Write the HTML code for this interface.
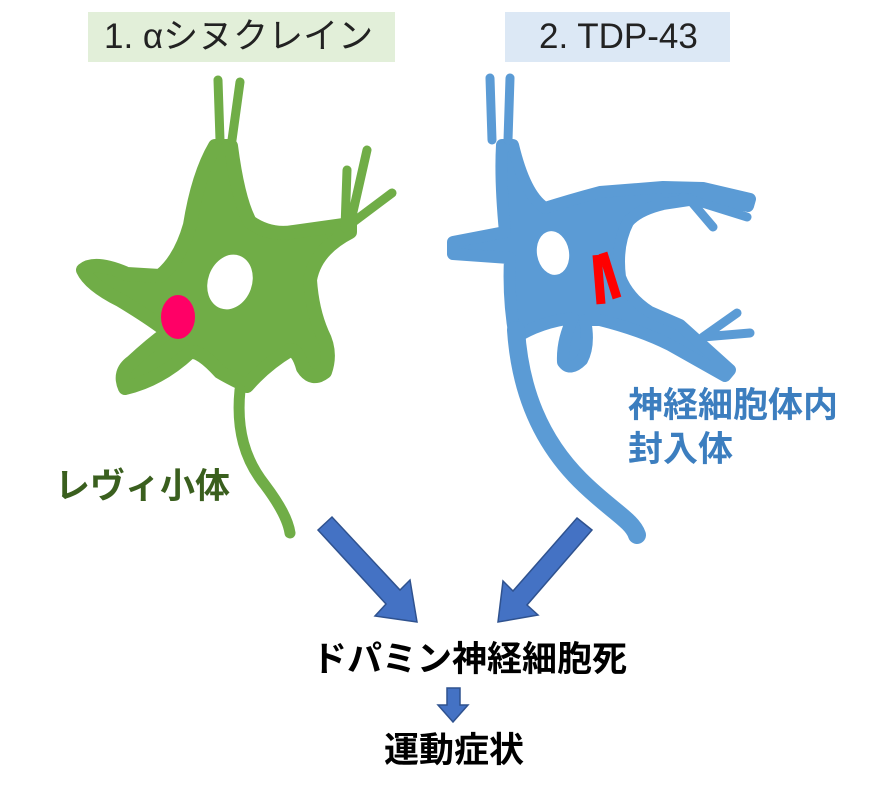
<!DOCTYPE html><html><head><meta charset="utf-8"><style>
body{margin:0;width:885px;height:799px;background:#fff;overflow:hidden;position:relative;font-family:"Liberation Sans","Noto Sans CJK JP",sans-serif}
.t{position:absolute;white-space:nowrap}
</style></head><body>
<svg width="885" height="799" style="position:absolute;left:0;top:0">
<rect x="88" y="12" width="307" height="50" fill="#e2efd9"/>
<rect x="505" y="12" width="225" height="50" fill="#dce8f5"/>
<!-- green neuron -->
<g fill="#70ad47" stroke="#70ad47" stroke-linejoin="round" stroke-linecap="round">
<path stroke-width="14" d="M215,146 L231,146 Q238,200 250,222 Q270,236 293,232 L350,224 L350,232 Q315,250 310,280 Q312,310 322,333 Q332,352 325,372 Q312,382 303,368 Q298,350 290,350 Q265,365 247,386 Q230,378 220,372 Q200,350 190,352 Q160,380 125,388 Q118,372 132,362 Q150,345 168,332 Q150,318 120,300 Q90,285 83,270 Q95,260 127,274 L160,276 Q180,260 190,225 Q198,175 215,146 Z"/>
<path fill="none" stroke-width="11" d="M240,390 C236,430 245,460 265,485 C280,505 288,520 290,533"/>
<path fill="none" stroke-width="9" d="M220,140 L218,80 M232,140 L240,82 M348,226 L392,193 M350,225 L367,150 M345,228 L347,170"/>
</g>
<ellipse cx="230" cy="282" rx="22" ry="28" transform="rotate(20 230 282)" fill="#fff"/>
<ellipse cx="178" cy="317" rx="17" ry="22" fill="#ff0066"/>
<!-- blue neuron -->
<g fill="#5b9bd5" stroke="#5b9bd5" stroke-linejoin="round" stroke-linecap="round">
<path stroke-width="12" d="M502,145 L513,145 Q525,195 545,208 Q570,200 600,192 L663,187 L703,188 L750,199 L748,206 L703,198 L663,204 Q638,210 628,222 Q616,245 620,277 Q628,298 650,312 L680,325 L730,370 L725,376 L670,345 Q640,330 600,320 L585,320 Q590,345 582,360 Q570,372 563,362 Q562,340 573,318 Q540,322 515,338 Q508,300 510,258 L453,254 L453,242 L505,232 Q500,180 502,145 Z"/>
<path fill="none" stroke-width="18" d="M516,330 C520,390 540,440 580,480 C610,510 632,520 637,535"/>
<path fill="none" stroke-width="9" d="M492,140 L490,78 M508,140 L510,78 M683,197 L747,217 M690,200 L713,227 M703,337 L750,333 M703,337 L737,313"/>
</g>
<ellipse cx="553" cy="253" rx="16" ry="22" transform="rotate(-10 553 253)" fill="#fff"/>
<g stroke="#ff0000" stroke-width="9"><line x1="597" y1="255" x2="601" y2="304"/><line x1="603" y1="253" x2="617" y2="298"/></g>
<!-- arrows -->
<g fill="#4472c4" stroke="#2f528f" stroke-width="1.5">
<polygon points="318,530 332,517 400,590 410,580 417,622 375,616 386,604"/>
<polygon points="577,518 592,530 527,605 538,615 498,622 503,581 513,591"/>
<polygon points="447,688 460,688 460,705 468,705 453,722 438,705 447,705"/>
</g>
</svg>
<div class="t" style="left:104px;top:16px;font-size:35px;line-height:42px;color:#222">1. αシヌクレイン</div>
<div class="t" style="left:539px;top:16px;font-size:35px;line-height:42px;color:#222">2. TDP-43</div>
<div class="t" style="left:55px;top:466px;font-size:35px;line-height:42px;font-weight:bold;color:#3a5f1e">レヴィ小体</div>
<div class="t" style="left:628px;top:384px;font-size:35px;font-weight:bold;color:#3c7ebf;line-height:44px">神経細胞体内<br>封入体</div>
<div class="t" style="left:312px;top:639px;font-size:35px;line-height:42px;font-weight:bold;color:#000">ドパミン神経細胞死</div>
<div class="t" style="left:384px;top:730px;font-size:35px;line-height:42px;font-weight:bold;color:#000">運動症状</div>
</body></html>
